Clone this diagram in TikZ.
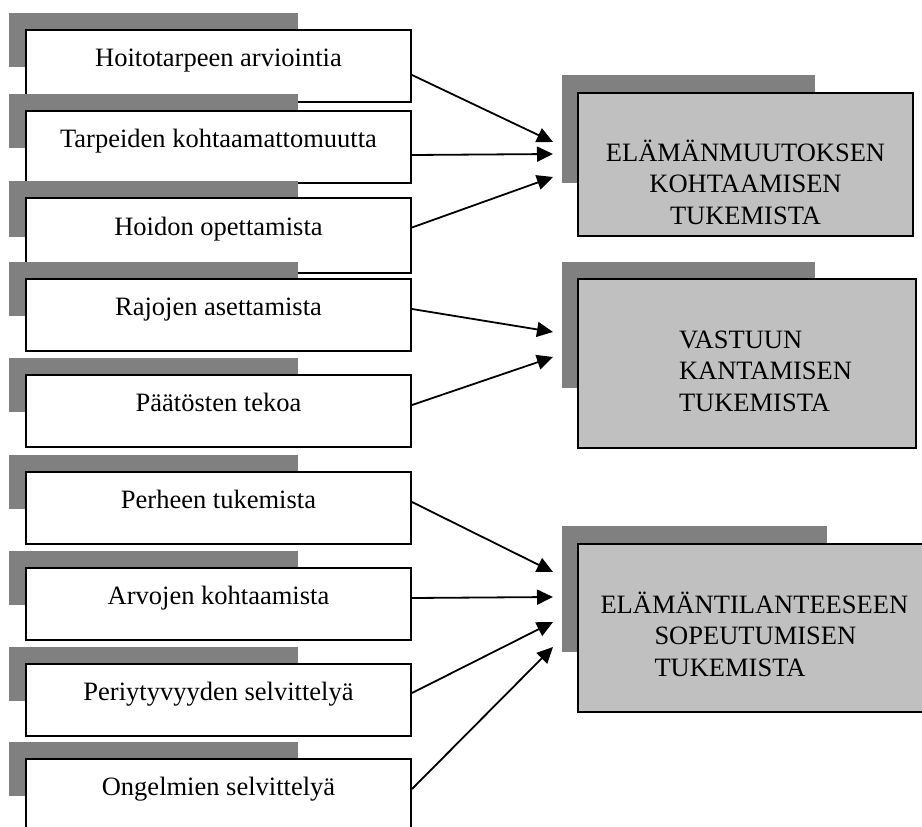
\documentclass[tikz,border=0pt]{standalone}
\usepackage{fontspec}
\setmainfont{Liberation Serif}
\usetikzlibrary{arrows.meta, positioning, calc}
\definecolor{tabgray}{HTML}{808080}
\definecolor{goalgray}{HTML}{C0C0C0}
\tikzset{
    task/.style={draw, line width=2pt, fill=white, anchor=north west,
        minimum width=385, inner sep=0pt, text height=20pt, text depth=20pt},
    goal/.style={draw, line width=2pt, fill=goalgray, anchor=north west, inner sep=0pt},
    feed/.style={-{Triangle[length=16pt, width=15pt]}, line width=1.8pt}
}
\begin{document}
\begin{tikzpicture}[x=1pt, y=-1pt, font=\fontsize{26.5}{31.5}\selectfont]
    \useasboundingbox (0,0) rectangle (922,827);
    \clip (0,0) rectangle (922,827);
    % left column, each box with its grey tab behind
    \foreach \i/\y/\h/\txt in {1/29/72/Hoitotarpeen arviointia,
        2/110/72/Tarpeiden kohtaamattomuutta,
        3/197/75/Hoidon opettamista,
        4/278/72/Rajojen asettamista,
        5/374/72/Päätösten tekoa,
        6/471/72/Perheen tukemista,
        7/567/72/Arvojen kohtaamista,
        8/663/72/Periytyvyyden selvittelyä,
        9/758/72/Ongelmien selvittelyä}{
        \fill[tabgray] (9,\y-16) rectangle ++(289,0.75*\h);
        \node[task, minimum height=\h] (t\i) at (25,\y) {\txt};
    }
    % right column
    \fill[tabgray] (562,75) rectangle (815,183);
    \node[goal, minimum width=335, minimum height=143, text width=300, align=center,
        text height=30pt, text depth=37pt] (g1) at (577,92)
        {ELÄMÄNMUUTOKSEN\\KOHTAAMISEN\\TUKEMISTA};
    \fill[tabgray] (562,262) rectangle (815,388);
    \node[goal, minimum width=338, minimum height=169, text width=136, align=left,
        text height=20pt, text depth=51pt] (g2) at (577,278)
        {VASTUUN\\KANTAMISEN\\TUKEMISTA};
    \fill[tabgray] (562,526) rectangle (827,652);
    \node[goal, minimum width=353, minimum height=168, text width=308, align=left,
        text height=20pt, text depth=50pt] (g3) at (577,543)
        {ELÄMÄNTILANTEESEEN\\\hspace*{54pt}SOPEUTUMISEN\\\hspace*{54pt}TUKEMISTA};
    % arrow tips in front of the goals
    \coordinate (a1) at (553,142);
    \coordinate (a2) at (553,154);
    \coordinate (a3) at (553,177);
    \coordinate (b1) at (553,332);
    \coordinate (b2) at (553,357);
    \coordinate (c1) at (553,572);
    \coordinate (c2) at (553,597);
    \coordinate (c3) at (553,622);
    \coordinate (c4) at (553,647);
    \draw[feed] ([yshift=-9pt]t1.east) -- (a1);
    \draw[feed] ([yshift=-8pt]t2.east) -- (a2);
    \draw[feed] ([yshift=8pt]t3.east) -- (a3);
    \draw[feed] ([yshift=6pt]t4.east) -- (b1);
    \draw[feed] ([yshift=6pt]t5.east) -- (b2);
    \draw[feed] ([yshift=6pt]t6.east) -- (c1);
    \draw[feed] ([yshift=6pt]t7.east) -- (c2);
    \draw[feed] ([yshift=7pt]t8.east) -- (c3);
    \draw[feed] ([yshift=6pt]t9.east) -- (c4);
\end{tikzpicture}
\end{document}
